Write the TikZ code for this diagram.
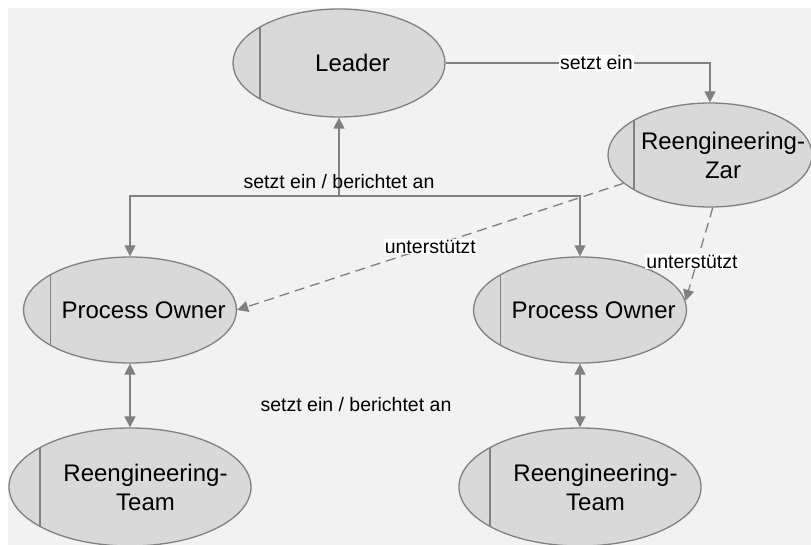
\documentclass[tikz,border=0pt]{standalone}
\usepackage{fontspec}
\setmainfont{Liberation Sans}
\usetikzlibrary{arrows.meta,calc,shapes.geometric}

\definecolor{canvas}{HTML}{F2F2F2}
\definecolor{bubble}{HTML}{D9D9D9}
\definecolor{rim}{HTML}{808080}

\tikzset{
  role/.style={ellipse, draw=rim, fill=bubble, line width=1.3pt, inner sep=0pt,
    path picture={
      \draw[rim, line width=1.3pt]
        ($(path picture bounding box.south west)!0.128!(path picture bounding box.south east)$) --
        ($(path picture bounding box.north west)!0.128!(path picture bounding box.north east)$);
    }},
  roletext/.style={font=\fontsize{24}{29}\selectfont, align=center, inner sep=0pt},
  tip/.tip={Triangle[length=11pt,width=11pt]},
  link/.style={draw=rim, line width=1.3pt, -tip},
  bilink/.style={draw=rim, line width=1.3pt, tip-tip},
  dashlink/.style={link, dash pattern=on 10pt off 6pt},
  edgelabel/.style={font=\fontsize{19.5}{23}\selectfont, fill=white, inner sep=1pt, text=black},
  freelabel/.style={font=\fontsize{19.5}{23}\selectfont, inner sep=1pt, text=black},
}

% name, centre x, centre y, half width, half height, text
\newcommand\rolenode[6]{%
  \node[role, minimum width={2*#4pt}, minimum height={2*#5pt}] (#1) at (#2,#3) {};
  \node[roletext] (#1-text) at ($(#1.center)+(0.128*#4,0)$) {#6};
}

\begin{document}
\begin{tikzpicture}[x=1pt,y=-1pt]
  \useasboundingbox (0,0) rectangle (811,545);
  \fill[white] (0,0) rectangle (811,545);
  \fill[canvas] (8,8) rectangle (811,545);

  \rolenode{leader}{339}{63}{106}{54}{Leader}
  \rolenode{zar}{710}{155}{102}{52}{Reengineering-\\Zar}
  \rolenode{po1}{130}{310}{106.5}{53}{Process Owner}
  \rolenode{po2}{580}{310}{106.5}{53}{Process Owner}
  \rolenode{team1}{130}{487}{121}{59}{Reengineering-\\Team}
  \rolenode{team2}{580}{487}{121}{59}{Reengineering-\\Team}

  % leader appoints the czar
  \draw[link] (leader.east) -| node[edgelabel, pos=0.285] {setzt ein} (zar.north);

  % reporting line between leader and both process owners
  \coordinate (hub) at (leader.south |- 0,196);
  \draw[link] (hub) -- (leader.south);
  \draw[link] (hub) -| (po1.north);
  \draw[link] (hub) -| (po2.north);
  \node[freelabel] (hubtext) at (339,182) {setzt ein / berichtet an};

  % support from the czar
  \draw[dashlink] (zar) -- node[edgelabel, pos=0.5] {unterstützt} (po1.east);
  \draw[dashlink] (zar.273) -- node[edgelabel, pos=0.58, xshift=-5pt] {unterstützt} (po2.5);

  % process owners and their teams
  \draw[bilink] (po1.south) -- (team1.north);
  \draw[bilink] (po2.south) -- (team2.north);
  \node[freelabel] (teamtext) at (356,405) {setzt ein / berichtet an};
\end{tikzpicture}
\end{document}
